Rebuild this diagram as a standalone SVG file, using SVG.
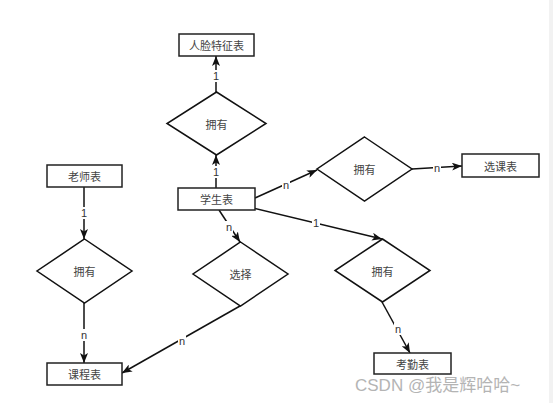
<svg xmlns="http://www.w3.org/2000/svg" width="553" height="403" viewBox="0 0 553 403">
<defs>
<marker id="arr" markerUnits="userSpaceOnUse" markerWidth="10" markerHeight="8" refX="10" refY="4" orient="auto">
<path d="M0,0 L10,4 L0,8 L2.5,4 z" fill="#111"/>
</marker>
<style>
.box{fill:#fff;stroke:#222;stroke-width:1.5}
.dia{fill:#fff;stroke:#111;stroke-width:1.5}
.t{font-family:"Noto Sans CJK SC","Liberation Sans",sans-serif;font-size:11px;fill:#444;text-anchor:middle;dominant-baseline:central}
.ln{fill:none;stroke:#111;stroke-width:1.5}
.lbg{fill:#fff}
.lb{font-family:"Liberation Sans",sans-serif;font-size:11px;fill:#333;text-anchor:middle;dominant-baseline:central}
</style>
</defs>
<rect width="553" height="403" fill="#fff"/>
<rect x="549" y="0" width="4" height="403" fill="#f2f2f2"/>
<g id="connectors">
<path class="ln" d="M216,188 L216,155" marker-end="url(#arr)"/>
<path class="ln" d="M216,92 L216,56" marker-end="url(#arr)"/>
<path class="ln" d="M255,198 L317,170" marker-end="url(#arr)"/>
<path class="ln" d="M412,169 L462,166" marker-end="url(#arr)"/>
<path class="ln" d="M249,207 L382,239" marker-end="url(#arr)"/>
<path class="ln" d="M382,302 L410,353" marker-end="url(#arr)"/>
<path class="ln" d="M219,210 L240,242" marker-end="url(#arr)"/>
<path class="ln" d="M240,306 L122,373" marker-end="url(#arr)"/>
<path class="ln" d="M84,187 L84,239" marker-end="url(#arr)"/>
<path class="ln" d="M84,303 L84,363" marker-end="url(#arr)"/>
<rect class="lbg" x="212" y="166" width="8" height="12"/><text class="lb" x="216" y="172">1</text>
<rect class="lbg" x="212" y="70" width="8" height="12"/><text class="lb" x="216" y="76">1</text>
<rect class="lbg" x="282" y="179" width="8" height="12"/><text class="lb" x="286" y="185">n</text>
<rect class="lbg" x="433" y="162" width="8" height="12"/><text class="lb" x="437" y="168">n</text>
<rect class="lbg" x="312" y="217" width="8" height="12"/><text class="lb" x="316" y="223">1</text>
<rect class="lbg" x="394" y="323" width="8" height="12"/><text class="lb" x="398" y="329">n</text>
<rect class="lbg" x="225" y="221" width="8" height="12"/><text class="lb" x="229" y="227">n</text>
<rect class="lbg" x="178" y="335" width="8" height="12"/><text class="lb" x="182" y="341">n</text>
<rect class="lbg" x="80" y="207" width="8" height="12"/><text class="lb" x="84" y="213">1</text>
<rect class="lbg" x="80" y="329" width="8" height="12"/><text class="lb" x="84" y="335">n</text>
</g>
<g id="face"><rect class="box" x="179" y="34" width="75" height="22"/><text class="t" x="216.5" y="45">人脸特征表</text></g>
<g id="student"><rect class="box" x="178" y="188" width="77" height="22"/><text class="t" x="216.5" y="199">学生表</text></g>
<g id="teacher"><rect class="box" x="47" y="165" width="75" height="22"/><text class="t" x="84.5" y="176">老师表</text></g>
<g id="course"><rect class="box" x="47" y="363" width="75" height="22"/><text class="t" x="84.5" y="374">课程表</text></g>
<g id="select"><rect class="box" x="462" y="154" width="77" height="23"/><text class="t" x="500.5" y="165.5">选课表</text></g>
<g id="attend"><rect class="box" x="374" y="353" width="77" height="21"/><text class="t" x="412.5" y="363.5">考勤表</text></g>
<g id="d-face"><polygon class="dia" points="216.5,92 266,123.5 216.5,155 167,123.5"/><text class="t" x="216.5" y="123.5">拥有</text></g>
<g id="d-select"><polygon class="dia" points="364.5,137 412,169 364.5,201 317,169"/><text class="t" x="364.5" y="169">拥有</text></g>
<g id="d-teacher"><polygon class="dia" points="84.5,239 132,271 84.5,303 37,271"/><text class="t" x="84.5" y="271">拥有</text></g>
<g id="d-choose"><polygon class="dia" points="240.5,242 288,274 240.5,306 193,274"/><text class="t" x="240.5" y="274">选择</text></g>
<g id="d-attend"><polygon class="dia" points="382.5,239 430,270.5 382.5,302 335,270.5"/><text class="t" x="382.5" y="270.5">拥有</text></g>
<text x="355" y="391" font-family="'Liberation Sans','Noto Sans CJK SC',sans-serif" font-size="17" fill="#b4b4b4">CSDN @我是辉哈哈~</text>
</svg>
